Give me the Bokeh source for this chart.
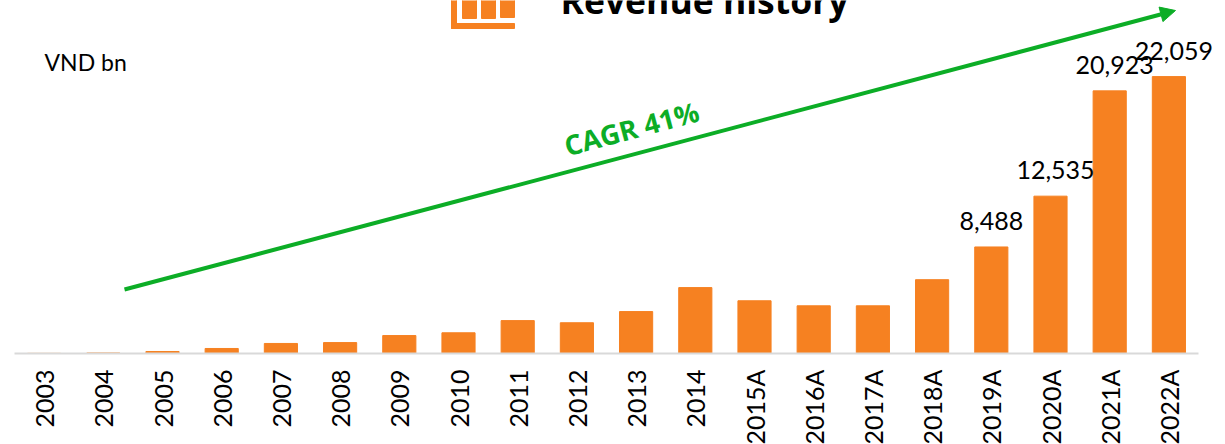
from bokeh.plotting import figure
from bokeh.embed import file_html
from bokeh.resources import INLINE
from bokeh.models import Range1d, Arrow, NormalHead, ColumnDataSource, FixedTicker
from bokeh.core.properties import value
import math

categories = ["2003","2004","2005","2006","2007","2008","2009","2010","2011","2012","2013","2014",
              "2015A","2016A","2017A","2018A","2019A","2020A","2021A","2022A"]
revenue = [10, 40, 160, 400, 800, 870, 1430, 1650, 2620, 2450, 3340, 5250,
           4200, 3800, 3800, 5880, 8488, 12535, 20923, 22059]
labelled_years = ["2019A","2020A","2021A","2022A"]
labelled_values = [8488, 12535, 20923, 22059]
labelled_text = ["8,488","12,535","20,923","22,059"]
title_text = "Revenue history"
unit_text = "VND bn"
cagr_text = "CAGR 41%"

ORANGE = "#f68121"
GREEN = "#0cad26"
FONT = "Lato"

idx = list(range(len(categories)))
step = 59.2

p = figure(x_range=Range1d(-0.5, -0.5 + (1225-14)/step), y_range=Range1d(0, 22059*352.5/276.5),
           width=1225, height=444, frame_width=1211, frame_height=353, output_backend="svg", toolbar_location=None,
           min_border_left=14, min_border_right=0, min_border_top=0, min_border_bottom=0,
           margin=(0, 0, 0, 0), background_fill_color="white", border_fill_color="white")
p.outline_line_color = None
p.grid.visible = False
p.yaxis.visible = False
ax = p.xaxis[0]
ax.ticker = FixedTicker(ticks=idx)
ax.major_label_overrides = {i: c for i, c in zip(idx, categories)}
ax.bounds = (-0.5, 19.5)
ax.major_tick_line_color = None
ax.minor_tick_line_color = None
ax.axis_line_color = "#d9d9d9"
ax.axis_line_width = 2
ax.major_label_orientation = math.pi/2
ax.major_label_standoff = 10
ax.major_label_text_font = FONT
ax.major_label_text_font_size = "25px"
ax.major_label_text_color = "#000000"

p.extra_x_ranges = {"px": Range1d(14, 1225)}
p.extra_y_ranges = {"px": Range1d(353, 0)}

p.vbar(x=idx, top=revenue, width=0.56, color=ORANGE)

src = ColumnDataSource(dict(x=[categories.index(c) for c in labelled_years], y=labelled_values,
                            t=labelled_text, dx=[0, 5, 5, 5]))
p.text(x="x", y="y", text="t", source=src, x_offset="dx", y_offset=-17,
       text_align="center", text_baseline="bottom", text_font=value(FONT),
       text_font_size="25px", text_color="#000000")

# arrow, icon and free texts live in a pixel-like range
p.add_layout(Arrow(end=NormalHead(size=15, fill_color=GREEN, line_color=GREEN),
                   x_start=124, y_start=289, x_end=1175, y_end=10,
                   line_color=GREEN, line_width=4,
                   x_range_name="px", y_range_name="px"))
p.text(x=[631], y=[128], text=[cagr_text], angle=[14.9], angle_units="deg",
       text_align="center", text_baseline="middle", text_color=GREEN,
       text_font=value("Open Sans"), text_font_style="bold", text_font_size="27.5px",
       x_range_name="px", y_range_name="px")
p.text(x=[44], y=[61], text=[unit_text], text_align="left", text_baseline="middle",
       text_font=value(FONT), text_font_size="23px", text_color="#000000",
       x_range_name="px", y_range_name="px")
p.text(x=[560], y=[-1], text=[title_text], text_align="left", text_baseline="alphabetic",
       text_font=value("Open Sans"), text_font_style="bold", text_font_size="35.5px",
       text_color="#000000", x_range_name="px", y_range_name="px")
p.quad(left=[451, 451, 462, 481, 500], right=[456, 514, 476, 495, 514],
       top=[-10, 23, -10, -10, -10], bottom=[28, 28, 18, 18, 17],
       color=ORANGE, x_range_name="px", y_range_name="px")

open("out.html", "w").write(file_html(p, INLINE))
